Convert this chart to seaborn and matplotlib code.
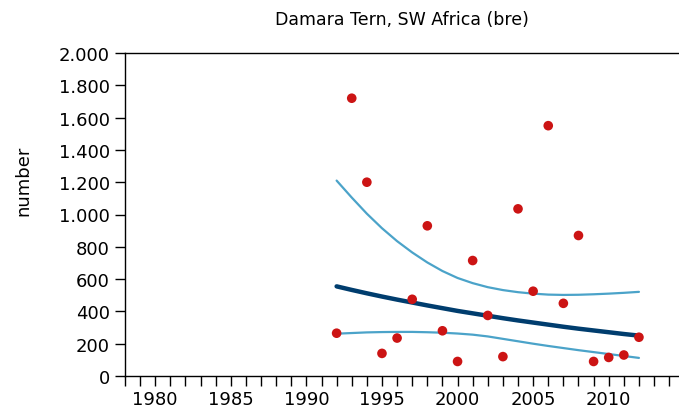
import numpy as np
import pandas as pd
import seaborn as sns
import matplotlib.pyplot as plt
from matplotlib.ticker import FuncFormatter, MultipleLocator

# observed counts
years = [1992, 1993, 1994, 1995, 1996, 1997, 1998, 1999, 2000, 2001, 2002,
         2003, 2004, 2005, 2006, 2007, 2008, 2009, 2010, 2011, 2012]
counts = [265, 1720, 1200, 140, 235, 475, 930, 280, 90, 715, 375,
          120, 1035, 525, 1550, 450, 870, 90, 115, 130, 240]

# fitted trend and confidence band per year
trend = [555, 533, 512, 492, 473, 455, 437, 420, 403, 388, 373,
         358, 344, 331, 318, 305, 293, 282, 271, 260, 250]
upper = [1210, 1105, 1005, 915, 835, 765, 703, 650, 607, 575, 550,
         532, 519, 510, 504, 502, 503, 506, 510, 515, 521]
lower = [262, 266, 270, 272, 273, 273, 271, 268, 263, 256, 245,
         230, 215, 200, 186, 173, 160, 148, 136, 124, 112]

df = pd.DataFrame({'year': years, 'count': counts, 'trend': trend,
                   'upper': upper, 'lower': lower})

sns.set_style('white')
plt.rcParams['font.family'] = ['DejaVu Sans']
plt.rcParams['text.color'] = 'black'
plt.rcParams['axes.labelcolor'] = 'black'
plt.rcParams['xtick.color'] = 'black'
plt.rcParams['ytick.color'] = 'black'

fig = plt.figure(figsize=(6.79, 4.14), dpi=100)
ax = fig.add_axes([125 / 679, 1 - 377 / 414, 1 - 125 / 679, (377 - 54) / 414])

sns.lineplot(data=df, x='year', y='upper', color='#4ba3c9', linewidth=1.6, ax=ax)
sns.lineplot(data=df, x='year', y='lower', color='#4ba3c9', linewidth=1.6, ax=ax)
sns.lineplot(data=df, x='year', y='trend', color='#003d6e', linewidth=3.2, ax=ax)
sns.scatterplot(data=df, x='year', y='count', color='#cc1414', s=48,
                edgecolor='none', zorder=5, ax=ax)

ax.set_xlim(1978, 2014.65)
ax.set_ylim(0, 2000)
ax.yaxis.set_major_locator(MultipleLocator(200))
ax.yaxis.set_major_formatter(FuncFormatter(lambda v, p: f'{v:,.0f}'.replace(',', '.')))
ax.xaxis.set_major_locator(MultipleLocator(5))
ax.xaxis.set_minor_locator(MultipleLocator(1))

for side in ['left', 'bottom', 'top']:
    ax.spines[side].set_color('black')
    ax.spines[side].set_linewidth(1.0)
ax.spines['right'].set_visible(False)

ax.tick_params(axis='y', which='major', direction='out', length=7, width=1,
               left=True, labelsize=13, pad=4, color='black', labelcolor='black')
ax.tick_params(axis='x', which='both', direction='out', length=7, width=1,
               bottom=True, labelsize=13, pad=3, color='black', labelcolor='black')

ax.set_xlabel('')
ax.set_ylabel('number', fontsize=13, color='black')
ax.yaxis.set_label_coords(-0.168, 0.607)
ax.set_title('Damara Tern, SW Africa (bre)', fontsize=12.5, pad=21, color='black')

fig.savefig('out.png', dpi=100)
